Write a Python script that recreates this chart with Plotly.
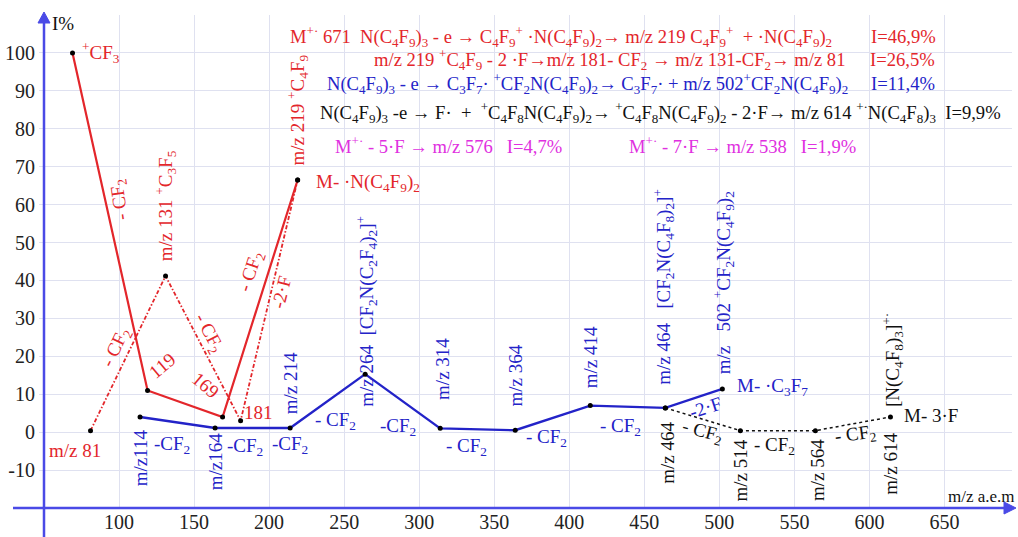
import plotly.graph_objects as go

# ---------------- data ----------------
red_solid_x = [69, 119, 169, 219]
red_solid_y = [100, 11, 4, 66.5]
red_dd_x = [81, 131, 181, 219]
red_dd_y = [0.4, 41.2, 3, 66.5]
blue_x = [114, 164, 214, 264, 314, 364, 414, 464, 502]
blue_y = [4, 1.1, 1.1, 15.3, 1.0, 0.5, 7.0, 6.4, 11.4]
black_x = [464, 514, 564, 614]
black_y = [6.4, 0.4, 0.4, 4.0]

x_ticks = [100, 150, 200, 250, 300, 350, 400, 450, 500, 550, 600, 650]
y_ticks = [-10, 0, 10, 20, 30, 40, 50, 60, 70, 80, 90, 100]

RED = "#e3262b"
BLUE = "#2323c8"
AXBLUE = "#4a4ae6"
MAG = "#e030e0"
BLK = "#111111"
GRID = "#dfe1f0"
FONT = "Times New Roman"

fig = go.Figure()
fig.add_trace(go.Scatter(x=red_solid_x, y=red_solid_y, mode="lines", line=dict(color=RED, width=2.2), hoverinfo="skip"))
fig.add_trace(go.Scatter(x=red_dd_x, y=red_dd_y, mode="lines", line=dict(color=RED, width=1.8, dash="4px,2px,1.5px,2px"), hoverinfo="skip"))
fig.add_trace(go.Scatter(x=blue_x, y=blue_y, mode="lines", line=dict(color=BLUE, width=2.4), hoverinfo="skip"))
fig.add_trace(go.Scatter(x=black_x, y=black_y, mode="lines", line=dict(color=BLK, width=1.5, dash="dot"), hoverinfo="skip"))
for xs, ys in [(red_solid_x, red_solid_y), (red_dd_x, red_dd_y), (blue_x, blue_y), (black_x, black_y)]:
    fig.add_trace(go.Scatter(x=xs, y=ys, mode="markers", marker=dict(color="black", size=5), hoverinfo="skip"))

def s(t):
    return f"<sub>{t}</sub>"

def p(t):
    return f"<sup>{t}</sup>"

NB = "\u00a0"
CF2 = "CF" + s("2")

ann = []
def A(text, x, y, color, angle=0, size=19, xanchor="center", ref="data"):
    d = dict(text=text, x=x, y=y, showarrow=False, textangle=angle,
             font=dict(family=FONT, size=size, color=color),
             xanchor=xanchor, yanchor="middle")
    if ref == "paper":
        d.update(xref="paper", yref="paper")
    ann.append(d)

HS = 18.6  # header font size
A(f"M{p('+·')} 671{NB}{NB}N(C{s(4)}F{s(9)}){s(3)} - e → C{s(4)}F{s(9)}{p('+')} ·N(C{s(4)}F{s(9)}){s(2)}→ m/z 219 C{s(4)}F{s(9)}{p('+')}{NB}{NB}+ ·N(C{s(4)}F{s(9)}){s(2)}",
  212.7, 104.3, RED, size=HS, xanchor="left")
A("I=46,9%", 646, 104.3, RED, size=HS, xanchor="right")
A(f"m/z 219 {p('+')}C{s(4)}F{s(9)} - 2 ·F→m/z 181- {CF2} → m/z 131-{CF2}→ m/z 81",
  268.7, 98.2, RED, size=HS, xanchor="left")
A("I=26,5%", 645.3, 98.2, RED, size=HS, xanchor="right")
A(f"N(C{s(4)}F{s(9)}){s(3)} - e → C{s(3)}F{s(7)}· {p('+')}CF{s(2)}N(C{s(4)}F{s(9)}){s(2)}→ C{s(3)}F{s(7)}· + m/z 502{p('+')}CF{s(2)}N(C{s(4)}F{s(9)}){s(2)}",
  237.3, 92.0, BLUE, size=HS, xanchor="left")
A("I=11,4%", 645.3, 92.0, BLUE, size=HS, xanchor="right")
A(f"N(C{s(4)}F{s(9)}){s(3)} -e → F·{NB}{NB}+{NB}{NB}{p('+')}C{s(4)}F{s(8)}N(C{s(4)}F{s(9)}){s(2)}→ {p('+')}C{s(4)}F{s(8)}N(C{s(4)}F{s(9)}){s(2)} - 2·F→ m/z 614 {p('+·')}N(C{s(4)}F{s(8)}){s(3)}{NB}{NB}I=9,9%",
  688.7, 84.2, BLK, size=HS, xanchor="right")
A(f"M{p('+·')} - 5·F → m/z 576{NB*3}I=4,7%", 242.7, 75.7, MAG, size=HS, xanchor="left")
A(f"M{p('+·')} - 7·F → m/z 538{NB*3}I=1,9%", 438.7, 75.7, MAG, size=HS, xanchor="left")

# red labels
A(f"{p('+')}CF{s(3)}", 74, 100, RED, xanchor="left")
A(f"- {CF2}", 100.7, 61.2, RED, angle=-98)
A(f"m/z 131 {p('+')}C{s(3)}F{s(5)}", 130.7, 59.6, RED, angle=-90)
A(f"m/z 219 {p('+')}C{s(4)}F{s(9)}", 219, 85, RED, angle=-90)
A(f"M- ·N(C{s(4)}F{s(9)}){s(2)}", 230, 65.7, RED, xanchor="left")
A(f"- {CF2}", 188, 42.2, RED, angle=-72)
A("-2·F", 208.4, 37, RED, angle=-76)
A(f"- {CF2}", 98, 22.2, RED, angle=-64)
A("119", 128.7, 17.7, RED, angle=-40)
A("169", 157.9, 12.2, RED, angle=40)
A(f"- {CF2}", 159.5, 26.1, RED, angle=62)
A("181", 192.7, 5.3, RED)
A("m/z 81", 70.7, -4.75, RED)

# blue labels
A("m/z114", 114, -6.9, BLUE, angle=-90)
A(f"-{CF2}", 135, -3.4, BLUE)
A("m/z164", 164, -7.9, BLUE, angle=-90)
A(f"-{CF2}", 184, -4, BLUE)
A(f"-{CF2}", 214, -3.4, BLUE)
A("m/z 214", 214, 12.9, BLUE, angle=-90)
A(f"- {CF2}", 244, 2.9, BLUE)
A(f"m/z 264{NB}{NB}[CF{s(2)}N(C{s(2)}F{s(4)}){s(2)}]{p('+')}", 265, 31.9, BLUE, angle=-90)
A(f"-{CF2}", 286, 1.3, BLUE)
A("m/z 314", 315, 16.6, BLUE, angle=-90)
A(f"- {CF2}", 331.8, -3.9, BLUE)
A("m/z 364", 364, 15, BLUE, angle=-90)
A(f"- {CF2}", 385, -1.6, BLUE)
A("m/z 414", 414, 19.8, BLUE, angle=-90)
A(f"- {CF2}", 434, 1.4, BLUE)
A(f"m/z 464{NB*3}[CF{s(2)}N(C{s(4)}F{s(8)}){s(2)}]{p('+')}", 463, 38.3, BLUE, angle=-90)
A(f"m/z{NB*3}502 {p('+')}CF{s(2)}N(C{s(4)}F{s(9)}){s(2)}", 503, 39.5, BLUE, angle=-90)
A(f"M- ·C{s(3)}F{s(7)}", 510.7, 12, BLUE, xanchor="left")
A("-2·F", 490.7, 6.6, BLUE, angle=-18)

# black labels
A("m/z 464", 465, -5.5, BLK, angle=-90)
A(f"- {CF2}", 488.5, 0.1, BLK, angle=15)
A("m/z 514", 514, -10, BLK, angle=-90)
A(f"- {CF2}", 537, -3.7, BLK)
A("m/z 564", 565, -10, BLK, angle=-90)
A(f"- {CF2}", 590.7, -0.8, BLK, angle=-8)
A("m/z 614", 614, -8.2, BLK, angle=-90)
A(f"[N(C{s(4)}F{s(8)}){s(3)}]{p('+·')}", 615, 19, BLK, angle=-90)
A("M- 3·F", 621.8, 4.5, BLK, xanchor="left")

W, H = 1018, 537
L, R, T, B = 44, 6, 15, 29
pw, ph = W - L - R, H - T - B

def px(xp):
    return (xp - L) / pw

def py(yp):
    return (H - B - yp) / ph

# axis titles
A("I%", px(50), py(24), BLK, size=19, xanchor="left", ref="paper")
A("m/z a.e.m", px(1017), py(496), BLK, size=17, xanchor="right", ref="paper")

shapes = [
    dict(type="line", xref="paper", yref="paper", x0=0, x1=0, y0=py(H), y1=1 - 4 / ph, line=dict(color=AXBLUE, width=2.5)),
    dict(type="line", xref="paper", yref="paper", x0=px(13), x1=1 - 4 / pw, y0=0, y1=0, line=dict(color=AXBLUE, width=2.5)),
    dict(type="path", xref="paper", yref="paper",
         path=f"M {px(44)} {py(12)} L {px(38)} {py(23)} L {px(50)} {py(23)} Z",
         fillcolor=AXBLUE, line=dict(color=AXBLUE, width=1)),
    dict(type="path", xref="paper", yref="paper",
         path=f"M {px(1016)} {py(508)} L {px(1004)} {py(502)} L {px(1004)} {py(514)} Z",
         fillcolor=AXBLUE, line=dict(color=AXBLUE, width=1)),
]

fig.update_layout(
    width=W, height=H,
    margin=dict(l=L, r=R, t=T, b=B, autoexpand=False),
    paper_bgcolor="white", plot_bgcolor="white",
    showlegend=False,
    font=dict(family=FONT, size=19, color=BLK),
    annotations=ann,
    shapes=shapes,
    xaxis=dict(range=[50, 695], tickvals=x_ticks, ticktext=[str(v) for v in x_ticks],
               showgrid=True, gridcolor=GRID, gridwidth=1, zeroline=False, automargin=False,
               showline=False, ticks="",
               tickfont=dict(family=FONT, size=20, color="#222")),
    yaxis=dict(range=[-20, 110], tickvals=y_ticks, ticktext=[str(v) for v in y_ticks],
               showgrid=True, gridcolor=GRID, gridwidth=1, zeroline=False, automargin=False,
               showline=False, ticks="outside", ticklen=4, tickcolor=GRID,
               tickfont=dict(family=FONT, size=20, color="#222")),
)

fig.write_html("out.html", config={"displayModeBar": False},
               post_script="document.body.style.margin='0';document.body.style.overflow='hidden';")
